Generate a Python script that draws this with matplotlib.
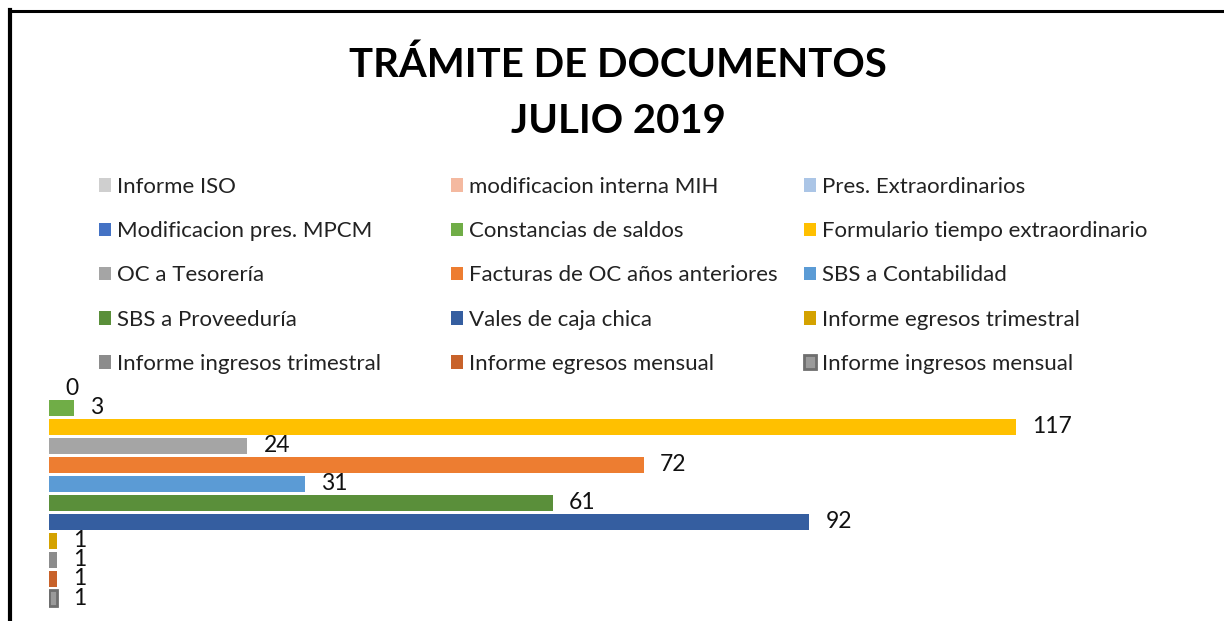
import matplotlib.pyplot as plt
from matplotlib.patches import Patch
from matplotlib.lines import Line2D

plt.rcParams['font.family'] = ['Lato', 'DejaVu Sans']

# categories, top to bottom
categorias = ['Informe ISO', 'modificacion interna MIH', 'Pres. Extraordinarios',
              'Modificacion pres. MPCM', 'Constancias de saldos',
              'Formulario tiempo extraordinario', 'OC a Tesorería',
              'Facturas de OC años anteriores', 'SBS a Contabilidad',
              'SBS a Proveeduría', 'Vales de caja chica', 'Informe egresos trimestral',
              'Informe ingresos trimestral', 'Informe egresos mensual',
              'Informe ingresos mensual']
valores = [0, 0, 0, 0, 3, 117, 24, 72, 31, 61, 92, 1, 1, 1, 1]
colores = ['#CFCFCF', '#F4B9A0', '#ABC5E6', '#4472C4', '#70AD47', '#FFC000',
           '#A5A5A5', '#ED7D31', '#5B9BD5', '#5A8F3A', '#355EA0', '#D4A200',
           '#8C8C8C', '#C8622A', '#9A9A9A']
bordes = [None] * 14 + ['#6E6E6E']

fig = plt.figure(figsize=(12.24, 6.21), dpi=100)
W, H = 1224, 621

# plot area, left edge at x=49px, rows 19px apart
y_bajo, y_alto = 14.63, 2.55
ax = fig.add_axes([49 / W, 1 - 610 / H, (1200 - 49) / W, (610 - 380) / H])
for i, (v, c, b) in enumerate(zip(valores, colores, bordes)):
    ax.barh(i, v, height=0.84, color=c,
            edgecolor=b if b else 'none', linewidth=2 if b else 0)
    # only rows that fall inside the visible range get a value label
    if i > y_alto:
        ax.text(v + 1.95, i, str(v), va='center', ha='left', fontsize=16.5,
                color='#111111', clip_on=False)
ax.set_xlim(0, 139.3)
ax.set_ylim(y_bajo, y_alto)
ax.axis('off')

# legend: three columns, entries laid out row by row
handles = []
for c, b in zip(colores, bordes):
    if b:
        handles.append(Patch(facecolor=c, edgecolor=b, linewidth=2))
    else:
        handles.append(Patch(facecolor=c, edgecolor='none'))
col_x = [99, 451, 804]
for k in range(3):
    leg = fig.legend(handles[k::3], categorias[k::3], loc='upper left',
                     bbox_to_anchor=(col_x[k] / W, 1 - 177 / H), frameon=False,
                     fontsize=16, handlelength=0.56, handleheight=0.56,
                     handletextpad=0.27, labelspacing=1.09, borderpad=0,
                     borderaxespad=0)
    for t in leg.get_texts():
        t.set_color('#222222')

fig.text(618 / W, 1 - 77 / H, 'TRÁMITE DE DOCUMENTOS', ha='center', va='baseline',
         fontsize=28.9, fontweight='bold')
fig.text(618 / W, 1 - 133 / H, 'JULIO 2019', ha='center', va='baseline',
         fontsize=28.9, fontweight='bold')

# frame lines at top and left
fig.add_artist(Line2D([10 / W, 1], [1 - 11 / H, 1 - 11 / H], color='black',
                      linewidth=2.2, transform=fig.transFigure))
fig.add_artist(Line2D([10 / W, 10 / W], [0, 1 - 10 / H], color='black',
                      linewidth=3, transform=fig.transFigure))

fig.savefig('out.png', dpi=100)
